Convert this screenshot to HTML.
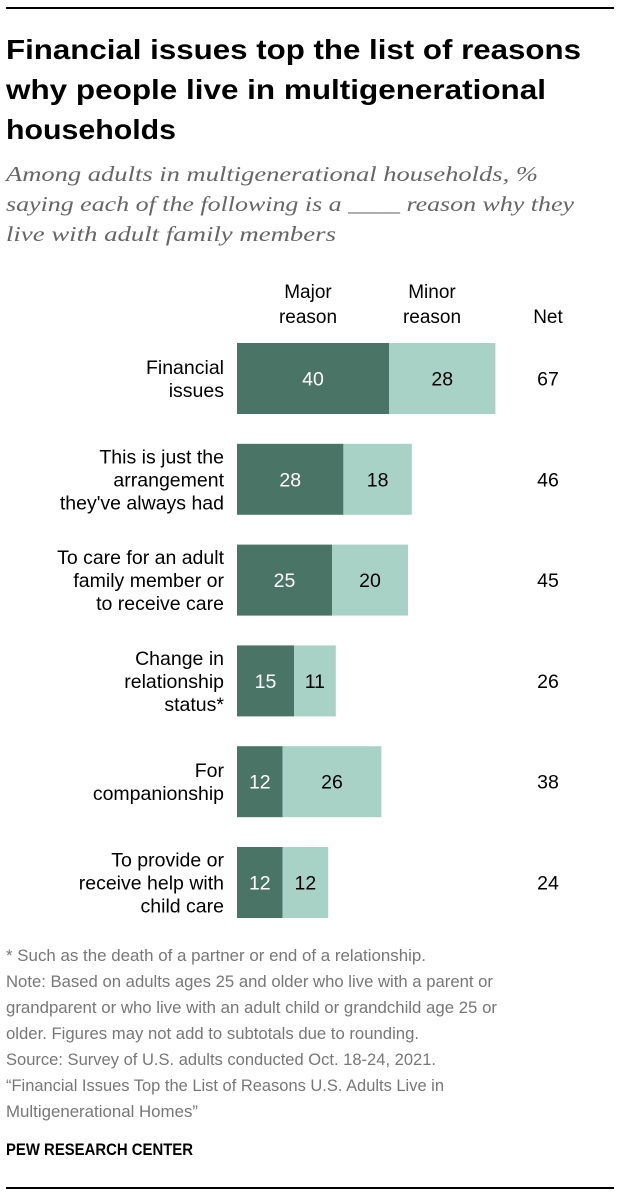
<!DOCTYPE html>
<html><head><meta charset="utf-8"><style>
html,body{margin:0;padding:0;background:#fff;}
svg{display:block;font-family:"Liberation Sans",sans-serif;}
</style></head><body>
<svg id="chart" width="620" height="1198" viewBox="0 0 620 1198" xmlns="http://www.w3.org/2000/svg">
<rect x="6" y="7" width="608" height="2" fill="#000"/>
<g font-weight="bold" font-size="28" fill="#000">
<text x="6" y="59" textLength="575" lengthAdjust="spacingAndGlyphs">Financial issues top the list of reasons</text>
<text x="6" y="99" textLength="540" lengthAdjust="spacingAndGlyphs">why people live in multigenerational</text>
<text x="6" y="139" textLength="170" lengthAdjust="spacingAndGlyphs">households</text>
</g>
<g font-family="Liberation Serif,serif" font-style="italic" font-size="21" fill="#666">
<text x="6" y="181" textLength="532" lengthAdjust="spacingAndGlyphs">Among adults in multigenerational households, %</text>
<text x="6" y="211" textLength="568" lengthAdjust="spacingAndGlyphs">saying each of the following is a ____ reason why they</text>
<text x="6" y="241" textLength="330" lengthAdjust="spacingAndGlyphs">live with adult family members</text>
</g>
<g font-size="19" fill="#000" text-anchor="middle">
<text x="308" y="298">Major</text><text x="308" y="323">reason</text>
<text x="432" y="298">Minor</text><text x="432" y="323">reason</text>
<text x="548" y="323">Net</text>
</g>
<g id="bars"></g>
<g font-size="16.5" fill="#777" lengthAdjust="spacingAndGlyphs">
<text x="6" y="961" textLength="420" lengthAdjust="spacingAndGlyphs">* Such as the death of a partner or end of a relationship.</text>
<text x="6" y="987" textLength="487" lengthAdjust="spacingAndGlyphs">Note: Based on adults ages 25 and older who live with a parent or</text>
<text x="6" y="1013" textLength="491" lengthAdjust="spacingAndGlyphs">grandparent or who live with an adult child or grandchild age 25 or</text>
<text x="6" y="1039" textLength="413" lengthAdjust="spacingAndGlyphs">older. Figures may not add to subtotals due to rounding.</text>
<text x="6" y="1065" textLength="430" lengthAdjust="spacingAndGlyphs">Source: Survey of U.S. adults conducted Oct. 18-24, 2021.</text>
<text x="6" y="1091" textLength="438" lengthAdjust="spacingAndGlyphs">“Financial Issues Top the List of Reasons U.S. Adults Live in</text>
<text x="6" y="1117" textLength="192" lengthAdjust="spacingAndGlyphs">Multigenerational Homes”</text>
</g>
<text x="6" y="1155" font-size="17" font-weight="bold" fill="#000" textLength="187" lengthAdjust="spacingAndGlyphs">PEW RESEARCH CENTER</text>
<rect x="6" y="1187" width="608" height="2" fill="#000"/>
</svg>
<script>
const categories = [
  ["Financial","issues"],
  ["This is just the","arrangement","they've always had"],
  ["To care for an adult","family member or","to receive care"],
  ["Change in","relationship","status*"],
  ["For","companionship"],
  ["To provide or","receive help with","child care"]
];
const majorValues = [40, 28, 25, 15, 12, 12];
const minorValues = [28, 18, 20, 11, 26, 12];
const netValues = [67, 46, 45, 26, 38, 24];

const NS = "http://www.w3.org/2000/svg";
const g = document.getElementById("bars");
const x0 = 237, scale = 3.8;
const xScale = v => v * scale;
const rowY = i => 343 + i * 100.8;
const barH = 71;
function mk(tag, attrs, parent) {
  const e = document.createElementNS(NS, tag);
  for (const k in attrs) e.setAttribute(k, attrs[k]);
  parent.appendChild(e);
  return e;
}
categories.forEach((lines, i) => {
  const y = rowY(i), cy = y + barH / 2;
  const row = mk("g", {}, g);
  
  
  const lbl = mk("text", {x: 224, "font-size": 19.5, fill: "#000", "text-anchor": "end"}, row);
  
  
  const lh = 23, startY = cy + 7 - (lines.length - 1) * lh / 2;
  lines.forEach((t, j) => {
    const ts = mk("tspan", {x: 224, y: startY + j * lh}, lbl);
    ts.textContent = t;
  });
  const wM = xScale(majorValues[i]), wm = xScale(minorValues[i]);
  const b1 = mk("rect", {x: x0, y: y, width: wM, height: barH, fill: "#4a7566"}, row);
  
  
  const b2 = mk("rect", {x: x0 + wM, y: y, width: wm, height: barH, fill: "#a9d2c7"}, row);
  
  
  const t1 = mk("text", {x: x0 + wM / 2, y: cy + 7, "font-size": 19.5, fill: "#fff", "text-anchor": "middle"}, row);
  t1.textContent = majorValues[i];
  
  
  const t2 = mk("text", {x: x0 + wM + wm / 2, y: cy + 7, "font-size": 19.5, fill: "#000", "text-anchor": "middle"}, row);
  t2.textContent = minorValues[i];
  
  
  const t3 = mk("text", {x: 548, y: cy + 7, "font-size": 19.5, fill: "#000", "text-anchor": "middle"}, row);
  t3.textContent = netValues[i];
  
  
});
</script>
</body></html>
